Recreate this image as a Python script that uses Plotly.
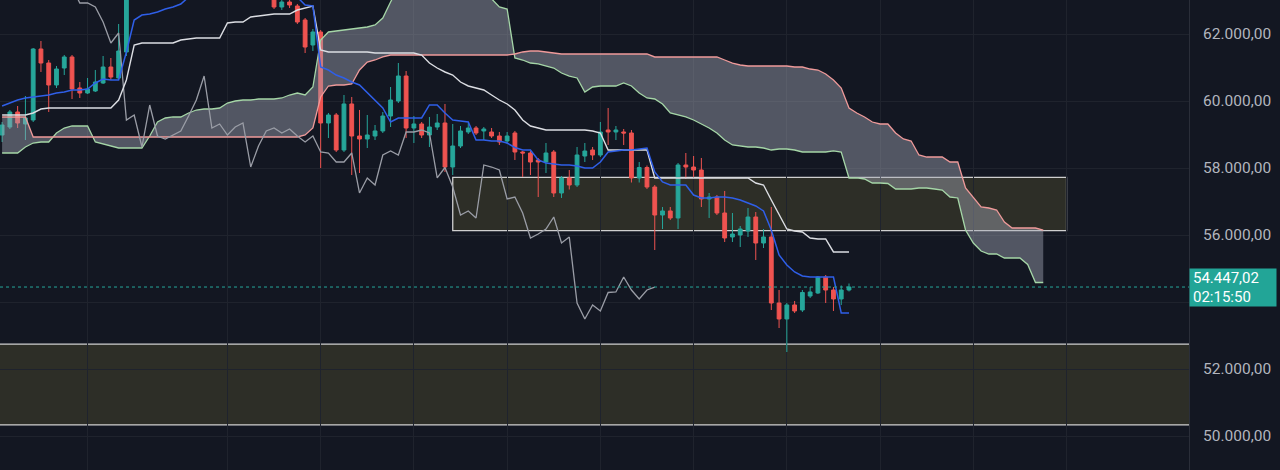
import plotly.graph_objects as go

# Candles (bar index, OHLC). Bars 17-34 are above the visible window and are left out.
candle_idx = list(range(0, 17)) + list(range(35, 110))
opens = [58985, 59224, 59672, 59314, 59433, 61552, 61134, 60478, 60985, 61314, 60388, 60239, 60299, 60537, 61015, 60687, 61463,
         63300, 62806, 62955, 62836, 62418, 61672, 62060, 59343, 59582, 58537, 59911, 58955, 58866, 58955, 59105, 59552, 60000, 60746,
         59194, 59314, 58985, 59224, 59343, 58030, 58657, 59075, 59194, 59105, 59075, 58955, 58806, 59045, 58478, 58448, 58239, 58179,
         58478, 57254, 57702, 57493, 58358, 58537, 58388, 59134, 59075, 59075, 59045, 57702, 58015, 57433, 56597, 56717, 56508, 58090,
         58030, 57940, 57075, 57134, 56657, 55941, 56000, 56120, 56537, 55761, 55941, 53970, 53493, 53911, 53761, 54179, 54269, 54746,
         54358, 54090, 54358]
highs = [59373, 59732, 59851, 60149, 61582, 61791, 61224, 61045, 61373, 61373, 60567, 60687, 60926, 61343, 61284, 62299, 63700,
         63500, 63015, 63015, 62896, 62478, 62149, 62119, 59642, 59642, 60179, 60120, 59732, 59582, 59284, 59672, 60418, 61134, 60896,
         59552, 59373, 59523, 59612, 59911, 59314, 59254, 59343, 59254, 59224, 59194, 59075, 59075, 59105, 58507, 58507, 58299, 58746,
         58537, 57761, 57940, 58627, 58746, 58627, 59373, 59791, 59254, 59164, 59134, 58179, 58075, 57493, 56836, 56836, 58149, 58448,
         58358, 58299, 57254, 57194, 57314, 56657, 56269, 56806, 56687, 56179, 56836, 54358, 53970, 54030, 54358, 54448, 54776, 54806,
         54448, 54493, 54552]
lows = [58776, 59164, 59194, 58836, 59373, 60866, 59672, 60388, 60776, 60060, 60090, 60209, 60269, 60508, 60627, 60657, 61343,
        62746, 62717, 62776, 62299, 61433, 61493, 57998, 58896, 58478, 58478, 57791, 57851, 58597, 58836, 59045, 59224, 59940, 58896,
        58746, 58896, 58627, 59134, 57881, 57791, 58597, 59015, 58985, 58836, 58896, 58687, 58717, 58239, 57732, 57791, 57134, 57851,
        57134, 57105, 57358, 57433, 58179, 58239, 58328, 58687, 58836, 58687, 57567, 57567, 57373, 55552, 56179, 56448, 56179, 57672,
        57732, 56836, 56508, 56597, 55791, 55791, 55642, 55941, 55254, 55612, 53761, 53224, 52507, 53672, 53702, 54120, 54239, 53970,
        53732, 53911, 54314]
closes = [59284, 59672, 59343, 59493, 61552, 61134, 60478, 60955, 61314, 60358, 60239, 60358, 60567, 61015, 60716, 61493, 63500,
          62806, 62955, 62866, 62358, 61612, 62060, 59343, 59582, 58537, 59911, 58955, 58866, 58985, 59105, 59552, 60030, 60746, 59194,
          59314, 58985, 59224, 59343, 58030, 58657, 59105, 59194, 59045, 59164, 58955, 58776, 58955, 58478, 58448, 58179, 58179, 58448,
          57254, 57702, 57493, 58388, 58507, 58388, 59075, 59075, 59134, 59045, 57702, 58015, 57433, 56597, 56717, 56508, 58090, 58030,
          57940, 57075, 57134, 56657, 55911, 56030, 56179, 56537, 55761, 55941, 53970, 53493, 53911, 53732, 54284, 54299, 54746, 54358,
          54090, 54358, 54447.02]

# Ichimoku lines
tenkan_idx = list(range(0, 25)) + list(range(38, 110))
tenkan = [59851, 59940, 60030, 60090, 60120, 60149, 60179, 60239, 60269, 60328, 60328, 60358, 60537, 60657, 60627, 60627, 61463,
          62418, 62567, 62597, 62657, 62746, 62806, 62896, 63100,
          63100, 62866, 62836, 61015, 60925, 60776, 60687, 60567, 60478, 60239, 60030, 59791, 59373, 59493, 59493, 59493, 59493,
          59881, 59881, 59642, 59433, 59403, 59373, 58836, 58836, 58806, 58806, 58746, 58612, 58537, 58537, 58239, 58149, 58120,
          58090, 58090, 58060, 57999, 57999, 58179, 58478, 58508, 58537, 58537, 58567, 58597, 57881, 57582, 57493, 57493, 57493,
          57194, 57105, 57105, 57134, 57134, 57105, 57045, 56955, 56866, 56717, 56149, 55403, 55105, 54896, 54776, 54746, 54746,
          54746, 54746, 53672, 53672]

kijun_idx = list(range(0, 110))
kijun = [59582, 59582, 59582, 59582, 59642, 59761, 59791, 59791, 59791, 59791, 59791, 59791, 59791, 59791, 59791, 60030, 60627,
         61672, 61731, 61731, 61731, 61731, 61731, 61821, 61851, 61881, 61881, 61881, 61881, 62328, 62358, 62358, 62508, 62537,
         62567, 62597, 62597, 62597, 62716, 62776, 62836, 61522, 61463, 61463, 61463, 61463, 61463, 61463, 61433, 61433, 61433,
         61433, 61433, 61433, 61373, 61134, 60985, 60866, 60776, 60567, 60448, 60388, 60328, 60179, 60030, 59911, 59731, 59433,
         59254, 59194, 59134, 59134, 59134, 59134, 59134, 59134, 59105, 59045, 58537, 58537, 58537, 58537, 58537, 58537, 57702,
         57702, 57702, 57702, 57702, 57702, 57702, 57702, 57702, 57702, 57702, 57702, 57702, 57552, 57493, 57045, 56597, 56179,
         56120, 56090, 55911, 55881, 55881, 55493, 55493, 55493]

cloud_idx = list(range(0, 135))
span_a = [58448, 58448, 58448, 58627, 58746, 58776, 58776, 59045, 59194, 59254, 59254, 59254, 58776, 58717, 58657, 58597, 58597,
          58597, 58597, 58955, 59373, 59493, 59523, 59523, 59642, 59731, 59761, 59761, 59791, 59940, 60000, 60030, 60030, 60060,
          60060, 60060, 60090, 60179, 60239, 60179, 60418, 61821, 62060, 62090, 62119, 62149, 62179, 62209, 62269, 62478, 62955,
          63400, 63400, 63400, 63400, 63400, 63400, 63400, 63400, 63400, 63400, 63400, 63400, 63050, 62806, 62746, 61284, 61224,
          61134, 61105, 61045, 60985, 60836, 60746, 60687, 60269, 60418, 60448, 60448, 60448, 60537, 60448, 60239, 60090, 60060,
          59911, 59642, 59582, 59523, 59433, 59314, 59194, 59045, 58836, 58687, 58657, 58627, 58627, 58597, 58537, 58567, 58567,
          58537, 58478, 58478, 58478, 58478, 58508, 58478, 57702, 57702, 57672, 57552, 57552, 57537, 57373, 57373, 57373, 57403,
          57403, 57373, 57343, 57134, 57105, 56149, 55761, 55522, 55433, 55433, 55314, 55314, 55314, 55119, 54582, 54582]
span_b = [59523, 59523, 59523, 59523, 58926, 58926, 58926, 58926, 58926, 58926, 58926, 58926, 58926, 58926, 58926, 58926, 58926,
          58926, 58926, 58926, 58926, 58926, 58926, 58926, 58926, 58926, 58926, 58926, 58926, 58926, 58926, 58926, 58926, 58926,
          58926, 58926, 58926, 58926, 58926, 58985, 59194, 60120, 60448, 60478, 60478, 60508, 60925, 61164, 61224, 61314, 61373,
          61373, 61373, 61373, 61373, 61373, 61373, 61373, 61373, 61373, 61373, 61373, 61373, 61373, 61373, 61373, 61403, 61463,
          61493, 61493, 61463, 61433, 61403, 61403, 61403, 61403, 61403, 61403, 61403, 61403, 61403, 61403, 61403, 61403, 61314,
          61314, 61314, 61314, 61314, 61314, 61314, 61314, 61314, 61224, 61134, 61075, 61045, 61045, 61045, 61045, 61045, 61045,
          61015, 61015, 60955, 60925, 60806, 60627, 60388, 59791, 59642, 59523, 59373, 59314, 59314, 59045, 58866, 58806, 58388,
          58328, 58328, 58328, 58179, 58179, 57403, 57105, 56836, 56806, 56746, 56388, 56209, 56209, 56209, 56209, 56149]

chikou_idx = list(range(9, 85))
chikou = [63400, 62925, 62925, 62806, 62358, 61731, 62030, 59433, 59582, 58627, 59880, 58955, 58866, 58985, 59105, 59552, 60030,
          60746, 59194, 59314, 58985, 59224, 59343, 58030, 58657, 59105, 59194, 59045, 59164, 58955, 58776, 58955, 58478, 58448,
          58179, 58179, 58448, 57254, 57702, 57493, 58388, 58507, 58388, 59075, 59075, 59134, 59045, 57702, 58015, 57433, 56597,
          56717, 56508, 58090, 58030, 57940, 57075, 57134, 56657, 55911, 56030, 56179, 56537, 55761, 55941, 53970, 53493, 53911,
          53732, 54284, 54299, 54746, 54358, 54090, 54358, 54447]

# Drawn zones (bar from, bar to, price low, price high)
zone_upper = [58, 137, 56130, 57720]
zone_lower = [-5, 160, 50330, 52740]

last_price = 54447.02
last_price_text = "54.447,02"
countdown = "02:15:50"
price_ticks = [50000, 52000, 54000, 56000, 58000, 60000, 62000]
price_labels = ["50.000,00", "52.000,00", "", "56.000,00", "58.000,00", "60.000,00", "62.000,00"]
grid_bars = [11, 29, 41, 53, 65, 77, 89, 101, 113, 125, 137]

BG = "#131722"
GRID = "#1f232d"
UP = "#26a69a"
DOWN = "#ef5350"

fig = go.Figure()

# Cloud
fig.add_trace(go.Scatter(x=cloud_idx, y=span_a, mode="lines",
                         line=dict(color="#a5d6a7", width=1.3), hoverinfo="skip"))
fig.add_trace(go.Scatter(x=cloud_idx, y=span_b, mode="lines", fill="tonexty",
                         fillcolor="rgba(165,168,182,0.44)",
                         line=dict(color="#ef9a9a", width=1.3), hoverinfo="skip"))

# Lagging span
fig.add_trace(go.Scatter(x=chikou_idx, y=chikou, mode="lines",
                         line=dict(color="#9a9da6", width=1.3), hoverinfo="skip"))

# Price
fig.add_trace(go.Candlestick(
    x=candle_idx, open=opens, high=highs, low=lows, close=closes,
    increasing=dict(line=dict(color=UP, width=1), fillcolor=UP),
    decreasing=dict(line=dict(color=DOWN, width=1), fillcolor=DOWN),
    whiskerwidth=0, hoverinfo="skip",
))

# Base / conversion lines
fig.add_trace(go.Scatter(x=kijun_idx, y=kijun, mode="lines",
                         line=dict(color="#dcdee3", width=1.4), hoverinfo="skip"))
fig.add_trace(go.Scatter(x=tenkan_idx, y=tenkan, mode="lines",
                         line=dict(color="#2f5fe8", width=1.5), hoverinfo="skip"))

# Zones
for z in (zone_upper, zone_lower):
    fig.add_shape(type="rect", xref="x", yref="y", x0=z[0], x1=z[1], y0=z[2], y1=z[3],
                  line=dict(color="#cfcfcf", width=1.3),
                  fillcolor="rgba(150,140,60,0.2)", layer="below")

# Last price line + label
fig.add_shape(type="line", xref="paper", yref="y", x0=0, x1=1, y0=last_price, y1=last_price,
              line=dict(color=UP, width=1, dash="dot"))
fig.add_annotation(xref="paper", yref="y", x=1.0, y=last_price, xanchor="left", yanchor="middle",
                   text=last_price_text + "<br>" + countdown,
                   showarrow=False, align="left", bgcolor="#22a597",
                   width=80, height=31, borderpad=3,
                   font=dict(color="#ffffff", size=15, family="Roboto"))

fig.update_layout(
    width=1280, height=470,
    margin=dict(l=0, r=91, t=0, b=0),
    paper_bgcolor=BG, plot_bgcolor=BG,
    showlegend=False,
    xaxis=dict(type="linear", range=[-0.27, 152.76], rangeslider=dict(visible=False),
               tickvals=grid_bars, showticklabels=False, ticks="",
               showgrid=True, gridcolor=GRID, gridwidth=1, zeroline=False, fixedrange=True),
    yaxis=dict(side="right", range=[48985, 63015], tickvals=price_ticks, ticktext=price_labels,
               showgrid=True, gridcolor=GRID, gridwidth=1, zeroline=False,
               showline=True, linecolor="#2a2e39", linewidth=1, ticks="",
               ticklabelstandoff=10,
               tickfont=dict(color="#b2b5be", size=15.5, family="Roboto")),
)

fig.write_html("out.html", config={"displayModeBar": False},
               post_script="document.body.style.margin='0';document.body.style.background='#131722';")
